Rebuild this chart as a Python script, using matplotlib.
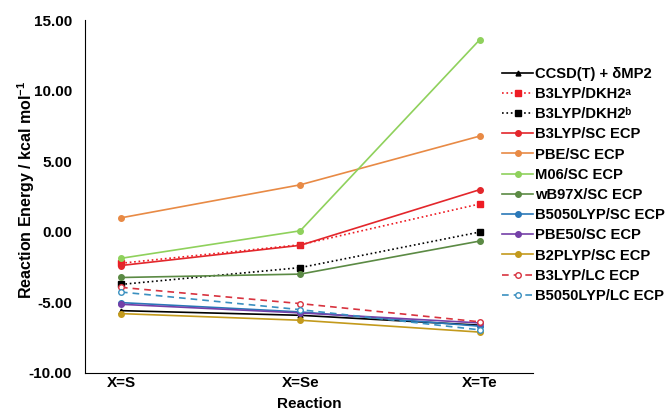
import matplotlib
matplotlib.use("Agg")
import matplotlib.pyplot as plt

plt.rcParams['font.family'] = ['Liberation Sans', 'DejaVu Sans']
plt.rcParams['mathtext.fontset'] = 'custom'
plt.rcParams['mathtext.rm'] = 'Liberation Sans'
plt.rcParams['mathtext.bf'] = 'Liberation Sans:bold'

categories = ["X=S", "X=Se", "X=Te"]

ccsd = [-5.59, -5.92, -6.62]
b3lyp_dkh2_a = [-2.23, -0.92, 1.97]
b3lyp_dkh2_b = [-3.73, -2.54, -0.02]
b3lyp_sc = [-2.39, -0.96, 2.98]
pbe_sc = [0.99, 3.33, 6.78]
m06_sc = [-1.88, 0.07, 13.6]
wb97x_sc = [-3.24, -3.0, -0.66]
b5050lyp_sc = [-5.02, -5.68, -6.69]
pbe50_sc = [-5.14, -5.75, -6.46]
b2plyp_sc = [-5.80, -6.27, -7.11]
b3lyp_lc = [-3.94, -5.09, -6.38]
b5050lyp_lc = [-4.27, -5.52, -6.95]

series = [
    ("CCSD(T) + δMP2", ccsd, dict(color="black", ls="-", marker="^", ms=3.5, mfc="black")),
    ("B3LYP/DKH2ᵃ", b3lyp_dkh2_a, dict(color="#ee1c24", ls=":", marker="s", ms=4.5, mfc="#ee1c24")),
    ("B3LYP/DKH2ᵇ", b3lyp_dkh2_b, dict(color="black", ls=":", marker="s", ms=4.5, mfc="black")),
    ("B3LYP/SC ECP", b3lyp_sc, dict(color="#e3262b", ls="-", marker="o", ms=4, mfc="#e3262b")),
    ("PBE/SC ECP", pbe_sc, dict(color="#e88a45", ls="-", marker="o", ms=4, mfc="#e88a45")),
    ("M06/SC ECP", m06_sc, dict(color="#8fd15c", ls="-", marker="o", ms=4, mfc="#8fd15c")),
    ("wB97X/SC ECP", wb97x_sc, dict(color="#5b8a44", ls="-", marker="o", ms=4, mfc="#5b8a44")),
    ("B5050LYP/SC ECP", b5050lyp_sc, dict(color="#2a78b8", ls="-", marker="o", ms=4, mfc="#2a78b8")),
    ("PBE50/SC ECP", pbe50_sc, dict(color="#7440a8", ls="-", marker="o", ms=4, mfc="#7440a8")),
    ("B2PLYP/SC ECP", b2plyp_sc, dict(color="#c39a1c", ls="-", marker="o", ms=4, mfc="#c39a1c")),
    ("B3LYP/LC ECP", b3lyp_lc, dict(color="#d8333f", ls=(0, (4, 3)), marker="o", ms=4, mfc="white")),
    ("B5050LYP/LC ECP", b5050lyp_lc, dict(color="#3a90c0", ls=(0, (4, 3)), marker="o", ms=4, mfc="white")),
]

fig = plt.figure(figsize=(6.7, 4.12), dpi=100)
ax = fig.add_axes([0.127, 0.095, 0.669, 0.856])

x = list(range(len(categories)))
for label, vals, st in series:
    ax.plot(x, vals, label=label, lw=1.2, mew=1.0, **st)

ax.set_xlim(-0.2, 2.3)
ax.set_ylim(-10, 15)
ax.set_yticks([-10, -5, 0, 5, 10, 15])
ax.set_yticklabels(["-10.00", "-5.00", "0.00", "5.00", "10.00", "15.00"])
ax.set_xticks(x)
ax.set_xticklabels(categories)
ax.tick_params(length=0, labelsize=11)
ax.tick_params(axis="y", pad=9.5)
ax.tick_params(axis="x", pad=2)
for t in ax.get_xticklabels() + ax.get_yticklabels():
    t.set_fontweight("bold")
ax.spines["top"].set_visible(False)
ax.spines["right"].set_visible(False)
ax.set_xlabel("Reaction", fontsize=11, fontweight="bold", labelpad=5)
ax.set_ylabel(r"Reaction Energy / kcal mol$^{\mathbf{-1}}$", fontsize=11.5, fontweight="bold")
ax.yaxis.set_label_coords(-0.107, 0.518)

leg = fig.legend(loc="upper left", bbox_to_anchor=(0.741, 0.852), frameon=False,
                 prop={"weight": "bold", "size": 10.6}, handlelength=2.1,
                 handletextpad=0.15, labelspacing=0.42, borderaxespad=0)

fig.savefig("out.png", dpi=100)
